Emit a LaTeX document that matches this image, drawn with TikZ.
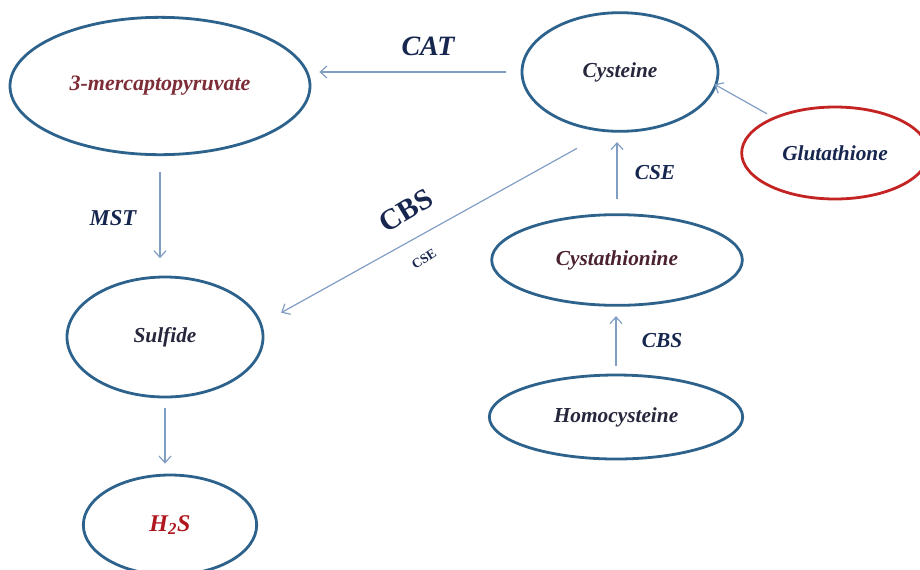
\documentclass[tikz,border=0pt]{standalone}
\usepackage{fontspec}
\setmainfont{Liberation Serif}
\usetikzlibrary{shapes.geometric,arrows.meta}

\definecolor{ringblue}{RGB}{45,98,140}
\definecolor{ringred}{RGB}{195,35,35}
\definecolor{arrowblue}{RGB}{128,158,195}
\definecolor{labelnavy}{RGB}{22,38,78}
\definecolor{namedark}{RGB}{38,38,60}
\definecolor{namemaroon}{RGB}{125,45,55}
\definecolor{namered}{RGB}{175,22,30}

\tikzset{
  pool/.style={ellipse, draw=ringblue, line width=2.1pt, inner sep=0pt, text=namedark,
    font=\fontsize{16}{18}\selectfont\bfseries\itshape},
  arr/.style={draw=arrowblue, line width=0.9pt, -{Straight Barb[length=5pt,width=9pt]}},
  enz/.style={text=labelnavy, inner sep=0.75pt, font=\fontsize{16}{18}\selectfont\bfseries\itshape}
}

\begin{document}
\begin{tikzpicture}[x=0.75pt,y=0.75pt,yscale=-1,xscale=1]
\useasboundingbox (0,0) rectangle (920,569);

%Shape: Ellipse
\node [pool, minimum width=225pt, minimum height=103pt, text=namemaroon, font=\fontsize{16.5}{18}\selectfont\bfseries\itshape] (mpy) at (160,86) {3-mercaptopyruvate};
%Shape: Ellipse
\node [pool, minimum width=147pt, minimum height=89pt] (cys) at (620,72) {Cysteine};
%Shape: Ellipse
\node [pool, draw=ringred, minimum width=140pt, minimum height=69pt, text=labelnavy] (glu) at (835,153) {Glutathione};
%Shape: Ellipse
\node [pool, minimum width=188pt, minimum height=68pt, text={rgb,255:red,75;green,35;blue,48}] (cyst) at (617,260) {Cystathionine};
%Shape: Ellipse
\node [pool, minimum width=190pt, minimum height=63pt] (hcy) at (616,417) {Homocysteine};
%Shape: Ellipse
\node [pool, minimum width=147pt, minimum height=90pt] (sul) at (165,337) {Sulfide};
%Shape: Ellipse
\node [pool, minimum width=130pt, minimum height=75pt, text=namered, font=\fontsize{18}{20}\selectfont\bfseries\itshape] (hs) at (170,525) {H\textsubscript{2}S};

%Straight Lines
\draw [arr, shorten <=11pt, shorten >=6pt] (cys.west) -- (cys.west -| mpy.east);
%Straight Lines
\draw [arr, shorten <=12pt, shorten >=13pt] (mpy.south) -- (mpy.south |- sul.north);
%Straight Lines
\draw [arr, shorten <=7pt, shorten >=7.5pt] (sul.south) -- (sul.south |- hs.north);
%Straight Lines
\draw [arr, shorten <=11pt, shorten >=7pt] (cyst.north) -- (cyst.north |- cys.south);
%Straight Lines
\draw [arr, shorten <=6pt, shorten >=7pt] (hcy.north) -- (hcy.north |- cyst.south);
%Straight Lines
\draw [arr, shorten <=5pt, shorten >=-2pt] (glu.150) -- (cys.-8);
%Straight Lines
\draw [arr, shorten <=25pt, shorten >=16.5pt] (cys.257) -- (sul.8);

% Text Node
\node [enz, font=\fontsize{21}{24}\selectfont\bfseries\itshape] (cat) at (428,46) {CAT};
% Text Node
\node [enz, font=\fontsize{17}{20}\selectfont\bfseries\itshape] (mst) at (113,218) {MST};
% Text Node
\node [enz] (cse1) at (655,173) {CSE};
% Text Node
\node [enz] (cbs1) at (662,341) {CBS};
% Text Node
\node [enz, inner sep=0pt, rotate=31, font=\fontsize{22}{24}\selectfont\bfseries] (cbs2) at (406,211) {CBS};
% Text Node
\node [enz, inner sep=0pt, rotate=33, font=\fontsize{10}{11}\selectfont\bfseries] (cse2) at (424,259) {CSE};

\end{tikzpicture}
\end{document}
